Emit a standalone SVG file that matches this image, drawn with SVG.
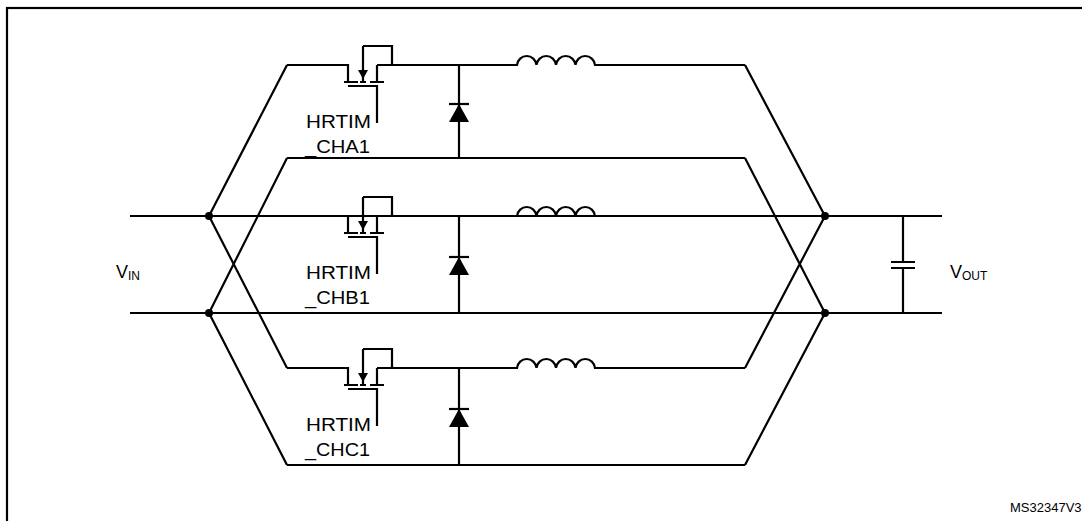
<svg xmlns="http://www.w3.org/2000/svg" width="1082" height="521" viewBox="0 0 1082 521">
<style>
.w{fill:none;stroke:#000;stroke-width:2.2;stroke-linejoin:miter}
.f{fill:#000}
.t{font-family:"Liberation Sans",Arial,sans-serif;font-size:18px;fill:#000}
</style>
<defs>
<g id="fet">
<path class="w" d="M287,0 H348 V17 M344,17 H358 M363,-19 V17 M360,17 H366 M377,0 V17 M370,17 H384 M348,21 H377 V58 M363,-19 H392 V0 H377"/>
<path class="f" d="M358,5 L368,5 L363,14 Z"/>
</g>
<g id="diode">
<path class="w" d="M449,39 H469"/>
<path class="f" d="M449,57 L469,57 L459,39 Z"/>
</g>
<g id="ind">
<path class="w" d="M392,0 H517 a9.8,10 0 0 1 19.5,0 a9.8,10 0 0 1 19.5,0 a9.8,10 0 0 1 19.5,0 a9.8,10 0 0 1 19.5,0 H745"/>
</g>
</defs>
<rect x="7" y="8" width="1090" height="530" class="w"/>
<g id="connectors">
<path class="w" d="M130,216 H942 M130,313 H942"/>
<path class="w" d="M287,65 L209,216 M287,158 L209,313 M287,368 L209,216 M287,465 L209,313"/>
<path class="w" d="M745,65 L825,216 M745,158 L825,313 M745,368 L825,216 M745,465 L825,313"/>
<path class="w" d="M287,158 H745 M287,465 H745"/>
<path class="w" d="M459,65 V158 M459,216 V313 M459,368 V465"/>
<circle class="f" cx="209" cy="216" r="4"/><circle class="f" cx="209" cy="313" r="4"/>
<circle class="f" cx="825" cy="216" r="4"/><circle class="f" cx="825" cy="313" r="4"/>
</g>
<g id="phaseA" transform="translate(0,65)">
<use href="#fet"/><use href="#diode"/><use href="#ind"/>
<text class="t" x="306" y="63" textLength="65" lengthAdjust="spacingAndGlyphs">HRTIM</text>
<text class="t" x="305" y="88" textLength="65" lengthAdjust="spacingAndGlyphs">_CHA1</text>
</g>
<g id="phaseB" transform="translate(0,216)">
<use href="#fet"/><use href="#diode" transform="translate(0,2)"/><use href="#ind"/>
<text class="t" x="306" y="63" textLength="65" lengthAdjust="spacingAndGlyphs">HRTIM</text>
<text class="t" x="305" y="88" textLength="65" lengthAdjust="spacingAndGlyphs">_CHB1</text>
</g>
<g id="phaseC" transform="translate(0,368)">
<use href="#fet"/><use href="#diode" transform="translate(0,2)"/><use href="#ind"/>
<text class="t" x="306" y="63" textLength="65" lengthAdjust="spacingAndGlyphs">HRTIM</text>
<text class="t" x="305" y="88" textLength="65" lengthAdjust="spacingAndGlyphs">_CHC1</text>
</g>
<g id="cap">
<path class="w" d="M903,216 V262 M903,268 V313 M891,262 H915 M891,268 H915"/>
</g>
<text class="t" x="116" y="278">V<tspan font-size="12" dy="2">IN</tspan></text>
<text class="t" x="950" y="278">V<tspan font-size="12" dy="2">OUT</tspan></text>
<text class="t" x="1010" y="512" style="font-size:13px">MS32347V3</text>
</svg>
